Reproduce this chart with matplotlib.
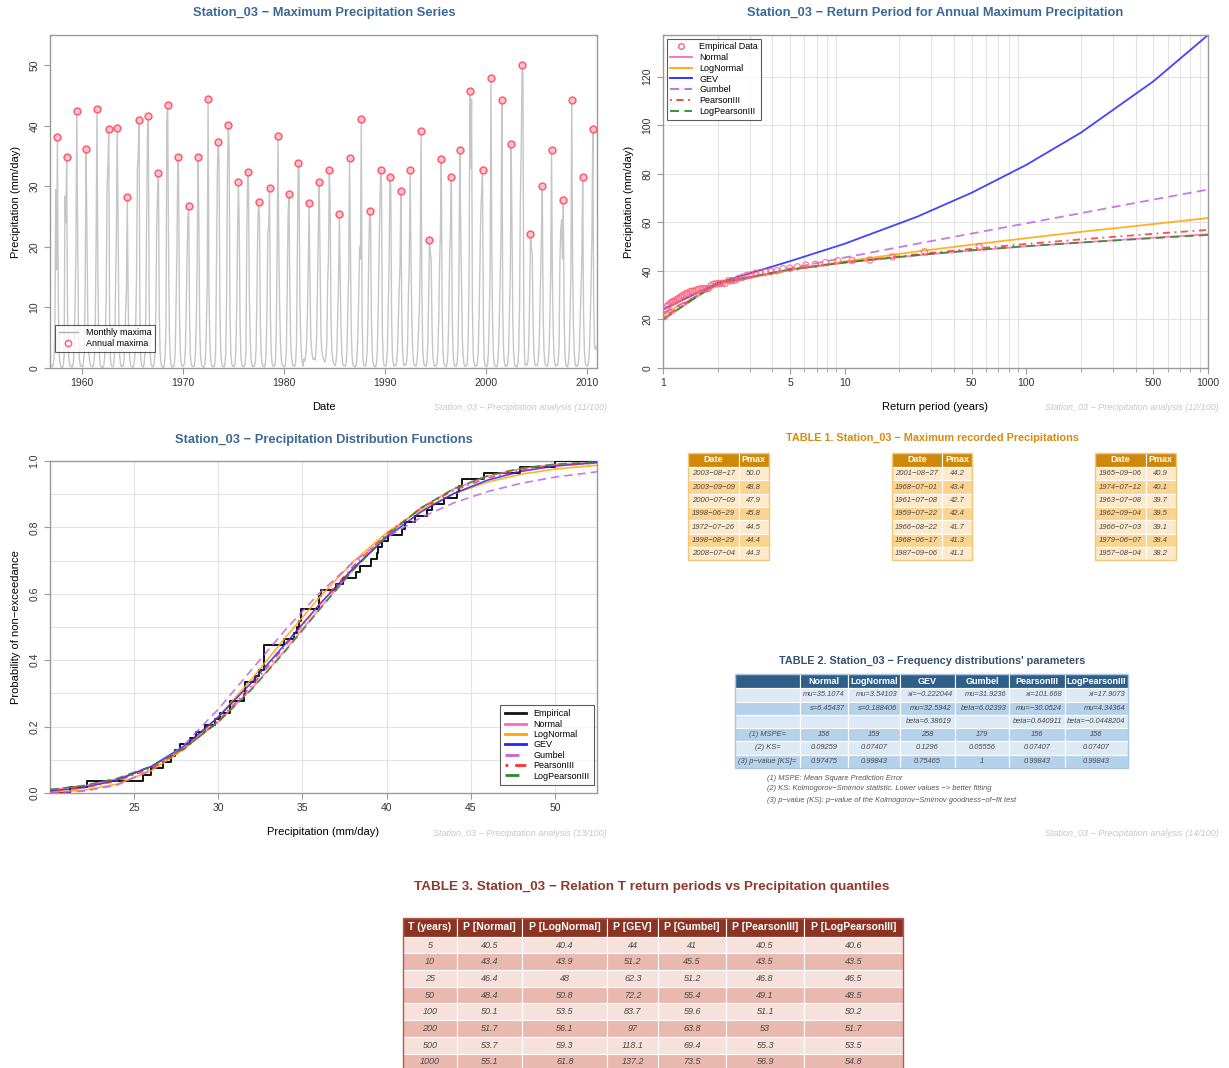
import numpy as np
import matplotlib
matplotlib.use('Agg')
import matplotlib.pyplot as plt
from matplotlib.patches import Rectangle
from matplotlib.lines import Line2D

plt.rcParams['font.family'] = ['Liberation Sans', 'DejaVu Sans']

# ---------------- data ----------------
first_year = 1957

# monthly maxima (mm/day), Jan..Dec, one row per year
monthly_1957_1966 = [
    [0.4, 0.2, 0.6, 1.5, 6, 29.5, 16.2, 38.2, 12, 2.5, 0.8, 0.3],
    [0.2, 0.1, 0.5, 2, 28.4, 24, 34.9, 9, 3, 1.2, 0.4, 0.2],
    [0.3, 0.2, 1, 4, 11, 19, 42.4, 24, 6, 1.5, 0.6, 0.3],
    [0.4, 0.2, 0.9, 2.8, 14, 36.1, 23.5, 9, 3, 1.5, 0.6, 0.3],
    [0.3, 0.2, 0.5, 2, 8, 21, 42.7, 16, 5, 1.8, 0.5, 0.2],
    [0.2, 0.1, 0.4, 1.5, 6, 12, 30, 33.5, 39.5, 8, 1.5, 0.4],
    [0.3, 0.2, 0.6, 3, 13, 21, 39.7, 25.6, 7, 2, 0.6, 0.2],
    [0.4, 0.3, 1, 3.5, 9, 13, 28.3, 12, 4, 1.5, 0.5, 0.3],
    [0.2, 0.1, 0.5, 2, 7, 15, 33, 35, 40.9, 9, 1.5, 0.4],
    [0.3, 0.2, 0.6, 2.5, 9, 24, 39.1, 41.7, 10, 3, 1, 0.3],
]
monthly_1967_1976 = [
    [0.3, 0.2, 0.8, 3, 10, 23.5, 29, 32.2, 9, 2.5, 0.8, 0.3],
    [0.2, 0.1, 0.5, 2, 7, 41.3, 43.4, 20, 6, 2, 0.6, 0.2],
    [0.3, 0.2, 0.7, 3, 11, 19, 34.9, 32, 9, 2.5, 0.8, 0.3],
    [0.4, 0.3, 0.9, 3, 9.5, 18, 25, 26.7, 8, 2, 0.6, 0.3],
    [0.3, 0.2, 0.6, 2.5, 8, 17, 34.8, 24.7, 7, 2, 0.7, 0.3],
    [0.2, 0.1, 0.5, 2, 7, 14, 44.5, 13, 5, 1.5, 0.5, 0.2],
    [0.3, 0.2, 0.7, 3, 17, 32, 37.4, 34, 10, 3, 0.9, 0.3],
    [0.3, 0.2, 0.6, 2.5, 12, 32, 40.1, 36, 9, 2.5, 0.8, 0.3],
    [0.4, 0.2, 0.8, 3, 10, 22, 30.7, 23, 7, 2, 0.6, 0.3],
    [0.3, 0.2, 0.7, 3, 22, 32.4, 30, 12, 5, 1.5, 0.5, 0.2],
]
monthly_1977_1986 = [
    [0.4, 0.3, 0.9, 3, 12, 23, 27.4, 25, 8, 2.5, 0.8, 0.3],
    [0.3, 0.2, 0.7, 3, 10, 22, 24, 29.8, 9, 2.5, 0.8, 0.3],
    [0.4, 0.3, 1, 6, 19, 38.4, 20, 10, 4, 1.5, 0.5, 0.3],
    [0.3, 0.2, 0.8, 3, 13, 25, 28.7, 14, 5, 2, 0.7, 0.3],
    [0.4, 0.3, 1, 4, 18, 33.9, 33, 12, 5, 2, 0.7, 0.3],
    [1.5, 1.2, 2, 4, 9, 17, 27.2, 15, 5, 3, 1.8, 1.4],
    [1.6, 1.3, 2.5, 5, 14, 23, 30.7, 18, 6, 3, 2, 1.5],
    [1.2, 1, 2, 4, 14, 18, 32.7, 27.5, 8, 3, 1.5, 0.8],
    [0.5, 0.4, 1, 3, 9, 14.5, 25.5, 14, 6, 2, 0.7, 0.4],
    [0.4, 0.3, 0.8, 3, 10, 15, 34.7, 21.5, 7, 2, 0.6, 0.3],
]
monthly_1987_1996 = [
    [0.3, 0.2, 0.6, 2, 6, 12, 20, 18, 41.1, 8, 1.5, 0.4],
    [0.4, 0.3, 0.9, 3, 9, 20, 26, 25, 8, 2.5, 0.8, 0.3],
    [0.3, 0.2, 0.7, 2.5, 9, 18, 26, 32.7, 30, 6, 1.5, 0.4],
    [0.4, 0.3, 0.8, 3, 10, 17, 31.6, 30, 8, 2, 0.7, 0.3],
    [0.5, 0.4, 1, 3, 8, 13, 17, 29.2, 10, 3, 1, 0.4],
    [0.6, 0.5, 1.2, 4, 12, 17.5, 32.7, 19, 8, 3, 1, 0.5],
    [0.4, 0.3, 1, 3, 6, 10, 18, 39.1, 12, 3, 1, 0.4],
    [0.4, 0.3, 1, 4, 11, 21.2, 19, 18, 7, 2, 0.7, 0.3],
    [0.4, 0.3, 0.9, 3, 8, 17, 22.5, 34.5, 10, 3, 0.9, 0.4],
    [0.3, 0.2, 0.8, 3, 9, 19, 23.5, 31.5, 9, 2.5, 0.8, 0.3],
]
monthly_1997_2006 = [
    [0.4, 0.3, 1, 4, 15, 36.0, 24, 14, 5, 2, 0.6, 0.3],
    [0.4, 0.3, 1, 5, 14, 45.8, 33, 44.4, 10, 2, 0.7, 0.3],
    [0.4, 0.3, 0.9, 3, 9, 18, 26, 29, 32.7, 8, 1.5, 0.4],
    [0.3, 0.2, 0.7, 2.5, 8, 16, 47.9, 20, 7, 2, 0.6, 0.3],
    [0.3, 0.2, 0.8, 3, 8, 15, 22, 44.2, 10, 3, 0.8, 0.3],
    [0.4, 0.3, 0.9, 3, 9, 15.5, 37, 24, 8, 2.5, 0.7, 0.3],
    [0.3, 0.2, 0.8, 3, 10, 28, 36, 50.0, 48.8, 9, 1.5, 0.4],
    [0.6, 0.5, 1.2, 4, 12, 22.2, 20, 19, 8, 2.5, 0.8, 0.4],
    [0.5, 0.4, 1, 3, 8, 15, 22, 30.1, 9, 3, 1, 0.4],
    [0.4, 0.3, 0.9, 3, 8, 16, 36, 15, 6, 2, 0.7, 0.3],
]
monthly_2007_2010 = [
    [0.5, 0.4, 1.2, 4, 18, 23, 24.5, 18, 27.7, 8, 2, 0.5],
    [0.3, 0.2, 0.8, 3, 9, 15, 44.3, 18, 7, 2.5, 0.8, 0.3],
    [0.4, 0.3, 1, 3, 8, 12.5, 18, 31.6, 9, 3, 0.9, 0.4],
    [0.4, 0.3, 1, 3, 8, 14, 22, 39.4, 12, 4, 3, 3.5],
]

# return period curves: low return periods, the rest from TABLE 3
rp_low_T = [1.01, 2]
rp_low = {
    'Normal': [20.1, 35.1],
    'LogNormal': [22.2, 34.5],
    'GEV': [24.3, 35.0],
    'Gumbel': [22.7, 34.1],
    'PearsonIII': [21.0, 34.9],
    'LogPearsonIII': [20.3, 35.1],
}

t3_T = [5, 10, 25, 50, 100, 200, 500, 1000]
t3_normal = [40.5, 43.4, 46.4, 48.4, 50.1, 51.7, 53.7, 55.1]
t3_lognormal = [40.4, 43.9, 48, 50.8, 53.5, 56.1, 59.3, 61.8]
t3_gev = [44, 51.2, 62.3, 72.2, 83.7, 97, 118.1, 137.2]
t3_gumbel = [41, 45.5, 51.2, 55.4, 59.6, 63.8, 69.4, 73.5]
t3_pearson3 = [40.5, 43.5, 46.8, 49.1, 51.1, 53, 55.3, 56.9]
t3_logpearson3 = [40.6, 43.5, 46.5, 48.5, 50.2, 51.7, 53.5, 54.8]

# fitted distribution functions (probability of non-exceedance)
cdf_x = [20, 22, 24, 26, 28, 30, 32, 34, 36, 38, 40, 42, 44, 46, 48, 50, 52.5]
cdf_normal = [0.0096, 0.0211, 0.0426, 0.0791, 0.1354, 0.2144, 0.3152, 0.4318, 0.5549,
              0.6730, 0.7758, 0.8573, 0.9159, 0.9543, 0.9771, 0.9895, 0.9965]
cdf_lognormal = [0.0019, 0.0084, 0.0270, 0.0665, 0.1337, 0.2290, 0.3446, 0.4689, 0.5890,
                 0.6960, 0.7838, 0.8517, 0.9016, 0.9366, 0.9602, 0.9755, 0.9871]
cdf_gev = [0.0059, 0.0164, 0.0389, 0.0794, 0.1424, 0.2286, 0.3341, 0.4502, 0.5673,
           0.6760, 0.7700, 0.8453, 0.9023, 0.9424, 0.9689, 0.9849, 0.9950]
cdf_gumbel = [0.0007, 0.0056, 0.0241, 0.0690, 0.1469, 0.2526, 0.3726, 0.4924, 0.6015,
              0.6944, 0.7697, 0.8289, 0.8740, 0.9079, 0.9330, 0.9515, 0.9676]
cdf_pearson3 = [0.0059, 0.0157, 0.0362, 0.0737, 0.1335, 0.2177, 0.3242, 0.4443, 0.5678,
                0.6825, 0.7803, 0.8564, 0.9120, 0.9489, 0.9721, 0.9855, 0.9941]
cdf_logpearson3 = [0.0106, 0.0225, 0.0441, 0.0803, 0.1359, 0.2136, 0.3131, 0.4286, 0.5517,
                   0.6704, 0.7747, 0.8575, 0.9170, 0.9557, 0.9785, 0.9904, 0.9970]

# TABLE 1
t1_dates_a = ['2003-08-17', '2003-09-09', '2000-07-09', '1998-06-29', '1972-07-26', '1998-08-29', '2008-07-04']
t1_pmax_a = [50.0, 48.8, 47.9, 45.8, 44.5, 44.4, 44.3]
t1_dates_b = ['2001-08-27', '1968-07-01', '1961-07-08', '1959-07-22', '1966-08-22', '1968-06-17', '1987-09-06']
t1_pmax_b = [44.2, 43.4, 42.7, 42.4, 41.7, 41.3, 41.1]
t1_dates_c = ['1965-09-06', '1974-07-12', '1963-07-08', '1962-09-04', '1966-07-03', '1979-06-07', '1957-08-04']
t1_pmax_c = [40.9, 40.1, 39.7, 39.5, 39.1, 38.4, 38.2]

# TABLE 2
t2_header = ['', 'Normal', 'LogNormal', 'GEV', 'Gumbel', 'PearsonIII', 'LogPearsonIII']
t2_par1 = ['', 'mu=35.1074', 'mu=3.54103', 'xi=−0.222044', 'mu=31.9236', 'xi=101.668', 'xi=17.9073']
t2_par2 = ['', 's=6.45437', 's=0.188406', 'mu=32.5942', 'beta=6.02393', 'mu=−30.0524', 'mu=4.34364']
t2_par3 = ['', '', '', 'beta=6.38619', '', 'beta=0.640911', 'beta=−0.0448204']
t2_mspe = ['(1) MSPE=', '156', '159', '258', '179', '156', '156']
t2_ks = ['(2) KS=', '0.09259', '0.07407', '0.1296', '0.05556', '0.07407', '0.07407']
t2_pval = ['(3) p−value [KS]=', '0.97475', '0.99843', '0.75465', '1', '0.99843', '0.99843']
t2_notes = ['(1) MSPE: Mean Square Prediction Error',
            '(2) KS: Kolmogorov−Smirnov statistic. Lower values −> better fitting',
            '(3) p−value (KS): p−value of the Kolmogorov−Smirnov goodness−of−fit test']

# TABLE 3
t3_header = ['T (years)', 'P [Normal]', 'P [LogNormal]', 'P [GEV]', 'P [Gumbel]', 'P [PearsonIII]', 'P [LogPearsonIII]']

styles = {
    'Normal': dict(color='#ff69b4', ls='-'),
    'LogNormal': dict(color='#ffa500', ls='-'),
    'GEV': dict(color='#2323ff', ls='-'),
    'Gumbel': dict(color='#c060e8', ls=(0, (5, 3))),
    'PearsonIII': dict(color='#ff3030', ls=(0, (1, 2.5, 4, 2.5))),
    'LogPearsonIII': dict(color='#2a8a2a', ls=(0, (5, 3))),
}
dist_names = list(styles.keys())

# ---------------- derived series ----------------
monthly = np.array(monthly_1957_1966 + monthly_1967_1976 + monthly_1977_1986
                   + monthly_1987_1996 + monthly_1997_2006 + monthly_2007_2010)
years = first_year + np.arange(monthly.shape[0])
t_month = (years[:, None] + np.arange(12)[None, :] / 12.0).ravel()
annual_max = monthly.max(axis=1)
t_annual = years + monthly.argmax(axis=1) / 12.0

n = len(annual_max)
amax_desc = np.sort(annual_max)[::-1]
T_emp = (n + 1) / np.arange(1, n + 1)

rp_T = rp_low_T + t3_T
rp_vals = {
    'Normal': rp_low['Normal'] + t3_normal,
    'LogNormal': rp_low['LogNormal'] + t3_lognormal,
    'GEV': rp_low['GEV'] + t3_gev,
    'Gumbel': rp_low['Gumbel'] + t3_gumbel,
    'PearsonIII': rp_low['PearsonIII'] + t3_pearson3,
    'LogPearsonIII': rp_low['LogPearsonIII'] + t3_logpearson3,
}
cdf_vals = {
    'Normal': cdf_normal, 'LogNormal': cdf_lognormal, 'GEV': cdf_gev,
    'Gumbel': cdf_gumbel, 'PearsonIII': cdf_pearson3, 'LogPearsonIII': cdf_logpearson3,
}

# ---------------- figure ----------------
W, H = 1229, 1068
fig = plt.figure(figsize=(W / 100, H / 100), dpi=100)

AXIS_GREY = '#9a9a9a'
TITLE_BLUE = '#3b6994'
GRID = '#e3e3e3'


def px_axes(x0, y0, x1, y1):
    return fig.add_axes([x0 / W, 1 - y1 / H, (x1 - x0) / W, (y1 - y0) / H])


def style_axes(ax):
    for s in ax.spines.values():
        s.set_color(AXIS_GREY)
        s.set_linewidth(1.0)
    ax.tick_params(colors='#333333', labelsize=7.5, length=4, width=0.8, color=AXIS_GREY)
    ax.tick_params(axis='y', labelrotation=90)
    for lab in ax.get_yticklabels():
        lab.set_va('center')


# ---- time series
ax1 = px_axes(50, 35, 597, 368)
ax1.plot(t_month, monthly.ravel(), color='#c6c6c6', lw=1.0)
ax1.scatter(t_annual, annual_max, s=24, facecolor='#ffc6cd', edgecolor='#ff5c70', lw=1.1, zorder=3)
ax1.set_xlim(1956.85, 2011.0)
ax1.set_ylim(0, 55)
ax1.set_xticks([1960, 1970, 1980, 1990, 2000, 2010])
ax1.set_yticks([0, 10, 20, 30, 40, 50])
ax1.set_xlabel('Date', fontsize=8, labelpad=10)
ax1.set_ylabel('Precipitation (mm/day)', fontsize=8, labelpad=6)
style_axes(ax1)
h1 = [Line2D([], [], color='#b0b0b0', lw=1, label='Monthly maxima'),
      Line2D([], [], ls='', marker='o', ms=4.5, mfc='none', mec='#ff5c70', label='Annual maxima')]
leg = ax1.legend(handles=h1, loc='lower left', bbox_to_anchor=(0.009, 0.048), fontsize=6.5,
                 frameon=True, fancybox=False, borderaxespad=0, handlelength=2.2,
                 labelspacing=0.25, borderpad=0.4)
leg.get_frame().set_edgecolor('#333333')
leg.get_frame().set_linewidth(0.8)

# ---- return period
ax2 = px_axes(663, 35, 1208, 368)
ax2.set_xscale('log')
minor_T = [v * d for d in (1, 10, 100) for v in range(2, 10)]
for t in minor_T:
    ax2.axvline(t, color=GRID, lw=0.8, zorder=0)
for yv in range(20, 140, 20):
    ax2.axhline(yv, color=GRID, lw=0.8, zorder=0)
ax2.scatter(T_emp, amax_desc, s=20, facecolor='none', edgecolor='#ff6078', lw=0.9, alpha=0.8, zorder=3)
for name in dist_names:
    ax2.plot(rp_T, rp_vals[name], lw=1.3, alpha=0.85, **styles[name])
ax2.set_xlim(1, 1000)
ax2.set_ylim(0, 137.2)
ax2.set_xticks([1, 5, 10, 50, 100, 500, 1000])
ax2.set_xticklabels(['1', '5', '10', '50', '100', '500', '1000'])
ax2.set_xticks(minor_T, minor=True)
ax2.tick_params(axis='x', which='minor', length=3, color=AXIS_GREY)
ax2.set_yticks([0, 20, 40, 60, 80, 100, 120])
ax2.set_xlabel('Return period (years)', fontsize=8, labelpad=10)
ax2.set_ylabel('Precipitation (mm/day)', fontsize=8, labelpad=6)
style_axes(ax2)
h2 = [Line2D([], [], ls='', marker='o', ms=4, mfc='none', mec='#ff6078', label='Empirical Data')]
h2 += [Line2D([], [], lw=1.3, label=name, **styles[name]) for name in dist_names]
leg = ax2.legend(handles=h2, loc='upper left', fontsize=6.5, frameon=True, fancybox=False,
                 borderaxespad=0.4, handlelength=2.4, labelspacing=0.2, borderpad=0.4)
leg.get_frame().set_edgecolor('#333333')
leg.get_frame().set_linewidth(0.8)

# ---- distribution functions
ax3 = px_axes(50, 461, 597, 793)
for xv in [25, 30, 35, 40, 45, 50]:
    ax3.axvline(xv, color=GRID, lw=0.8, zorder=0)
for yv in np.arange(0.1, 1.0, 0.1):
    ax3.axhline(yv, color=GRID, lw=0.8, zorder=0)
x_lo, x_hi = 20, 52.5
ecdf_x = np.r_[x_lo, np.sort(annual_max), x_hi]
ecdf_y = np.r_[0, np.arange(1, n + 1) / n, 1]
ax3.step(ecdf_x, ecdf_y, where='post', color='#111111', lw=1.4, zorder=4)
for name in dist_names:
    ax3.plot(cdf_x, cdf_vals[name], lw=1.2, alpha=0.85, zorder=5, **styles[name])
ax3.set_xlim(x_lo, x_hi)
ax3.set_ylim(0, 1)
ax3.set_xticks([25, 30, 35, 40, 45, 50])
ax3.set_yticks([0, 0.2, 0.4, 0.6, 0.8, 1.0])
ax3.set_yticklabels(['0.0', '0.2', '0.4', '0.6', '0.8', '1.0'])
ax3.set_xlabel('Precipitation (mm/day)', fontsize=8, labelpad=10)
ax3.set_ylabel('Probability of non−exceedance', fontsize=8, labelpad=6)
style_axes(ax3)
h3 = [Line2D([], [], color='#111111', lw=2, label='Empirical')]
h3 += [Line2D([], [], lw=2, label=name, **styles[name]) for name in dist_names]
leg = ax3.legend(handles=h3, loc='lower right', bbox_to_anchor=(0.995, 0.024), fontsize=6.5,
                 frameon=True, fancybox=False, borderaxespad=0, handlelength=2.4,
                 labelspacing=0.15, borderpad=0.5)
leg.get_frame().set_edgecolor('#333333')
leg.get_frame().set_linewidth(0.8)

# ---------------- overlay for titles and tables ----------------
ov = fig.add_axes([0, 0, 1, 1])
ov.set_xlim(0, W)
ov.set_ylim(H, 0)
ov.set_axis_off()

for (x, y, s) in [(324, 13, 'Station_03 − Maximum Precipitation Series'),
                  (935, 13, 'Station_03 − Return Period for Annual Maximum Precipitation'),
                  (324, 440, 'Station_03 − Precipitation Distribution Functions')]:
    ov.text(x, y, s, ha='center', va='center', fontsize=9.3, weight='bold', color=TITLE_BLUE)

for (x, y, k) in [(607, 408, 11), (1219, 408, 12), (607, 834, 13), (1219, 834, 14)]:
    ov.text(x, y, 'Station_03 − Precipitation analysis (%d/100)' % k, ha='right', va='center',
            fontsize=6.5, style='italic', color='#c6c6c6')


def draw_table(x0, y0, widths, head_h, row_h, header, rows, head_fc, row_fcs,
               head_fs=6.5, cell_fs=5.5, aligns=None, edge=None):
    edges = x0 + np.r_[0, np.cumsum(widths)]
    for j, h in enumerate(header):
        ov.add_patch(Rectangle((edges[j], y0), widths[j], head_h, fc=head_fc, ec='white', lw=0.8))
        ov.text((edges[j] + edges[j + 1]) / 2, y0 + head_h / 2, h, ha='center', va='center',
                color='white', weight='bold', fontsize=head_fs)
    for i, row in enumerate(rows):
        y = y0 + head_h + i * row_h
        al = aligns[i] if aligns else 'center'
        for j, v in enumerate(row):
            ov.add_patch(Rectangle((edges[j], y), widths[j], row_h, fc=row_fcs[i % 2], ec='white', lw=0.8))
            a = 'center' if j == 0 else al
            xt = (edges[j] + edges[j + 1]) / 2 if a == 'center' else edges[j + 1] - 3
            ov.text(xt, y + row_h / 2, v, ha=a, va='center', style='italic',
                    color='#4a4a4a', fontsize=cell_fs)
    if edge:
        ov.add_patch(Rectangle((x0, y0), edges[-1] - x0, head_h + len(rows) * row_h,
                               fc='none', ec=edge, lw=1.0))


# TABLE 1
ov.text(932, 438, 'TABLE 1. Station_03 − Maximum recorded Precipitations', ha='center', va='center',
        fontsize=7.8, weight='bold', color='#d88a0e')
for x0, dates, vals in [(688, t1_dates_a, t1_pmax_a), (891.5, t1_dates_b, t1_pmax_b),
                        (1095, t1_dates_c, t1_pmax_c)]:
    rows = [[d.replace('-', '−'), '%.1f' % v] for d, v in zip(dates, vals)]
    draw_table(x0, 453, [50.5, 30], 14, 13.35, ['Date', 'Pmax'], rows, '#cf880a',
               ['#fde9cc', '#fcd38f'], head_fs=6.5, cell_fs=5.5, edge='#f4c677')

# TABLE 2
ov.text(932, 661, "TABLE 2. Station_03 − Frequency distributions' parameters", ha='center', va='center',
        fontsize=7.8, weight='bold', color='#34506e')
t2_rows = [t2_par1, t2_par2, t2_par3, t2_mspe, t2_ks, t2_pval]
draw_table(735, 674, [65, 47.7, 52.3, 55, 54.3, 55.7, 63], 14.3, 13.25, t2_header, t2_rows,
           '#2f5e88', ['#dde9f5', '#b6d1ea'], head_fs=6.5, cell_fs=5.4,
           aligns=['right', 'right', 'right', 'center', 'center', 'center'], edge='#a9c6e3')
for k, s in enumerate(t2_notes):
    ov.text(767, 778 + 11 * k, s, ha='left', va='center', fontsize=5.4, style='italic', color='#555555')

# TABLE 3
ov.text(652, 887, 'TABLE 3. Station_03 − Relation T return periods vs Precipitation quantiles',
        ha='center', va='center', fontsize=9.7, weight='bold', color='#8c3a2b')
t3_rows = [['%g' % c for c in r] for r in zip(t3_T, t3_normal, t3_lognormal, t3_gev, t3_gumbel,
                                               t3_pearson3, t3_logpearson3)]
draw_table(402.7, 918.3, [54.6, 65, 85, 51, 67.7, 78.3, 99], 18.4, 16.7, t3_header, t3_rows,
           '#8c3424', ['#f7e1dd', '#e9b9b0'], head_fs=7.5, cell_fs=6.5, edge='#b9574a')

fig.savefig('out.png', dpi=100)
